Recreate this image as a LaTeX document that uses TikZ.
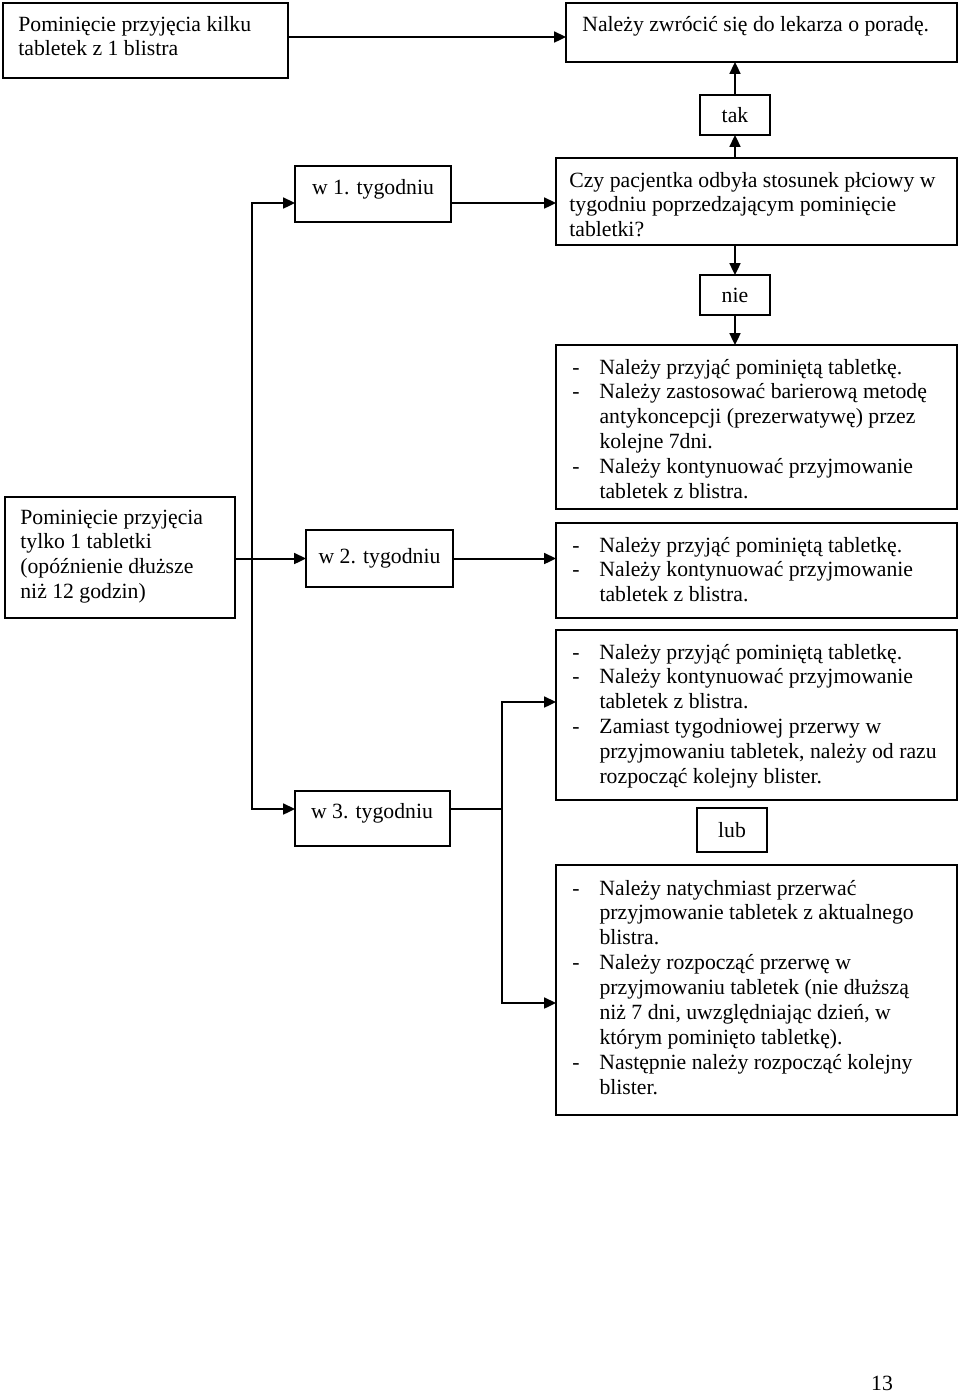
\documentclass[tikz,border=0pt]{standalone}
\usepackage{fontspec}
\setmainfont{Liberation Serif}
\usetikzlibrary{arrows.meta}
\tikzset{
 bx/.style={draw, line width=1.1pt, inner sep=0pt, outer sep=0pt, font=\fontsize{12}{13.8}\selectfont},
 txt/.style={inner sep=0pt, anchor=base west, font=\fontsize{12}{13.8}\selectfont},
 ctxt/.style={inner sep=0pt, font=\fontsize{12}{13.8}\selectfont},
 tip/.tip={Triangle[length=6.5pt,width=6pt]},
 arr/.style={line width=1.1pt, -tip},
 arrb/.style={line width=1.1pt, tip-tip},
 ln/.style={line width=1.1pt},
}
\newcommand\mkbox[6]{\node[bx, minimum width={(#4-#2)*0.5525pt}, minimum height={(#5-#3)*0.5525pt}] (#1) at ({(#2+#4)/2},{(#3+#5)/2}) {#6};}
\newcommand\tl[1]{\begin{tabular}[t]{@{}l@{}}#1\end{tabular}}
\newcommand\dl[2]{\begin{tabular}[t]{@{}p{#1}@{}l@{}}#2\end{tabular}}
\begin{document}
\begin{tikzpicture}[x=0.5525pt,y=-0.5525pt]
\useasboundingbox (0,0) rectangle (960,1394);
% boxes
\mkbox{A}{3}{3}{288}{78}{}
\mkbox{B}{566}{3}{957}{62}{}
\mkbox{tak}{700}{95}{770}{135}{tak}
\mkbox{Q}{556}{158}{957}{245}{}
\mkbox{nie}{700}{275}{770}{315}{nie}
\mkbox{wa}{295}{166}{451}{222}{}
\mkbox{D1}{556}{345}{957}{509}{}
\mkbox{C}{5}{497}{235}{618}{}
\mkbox{wb}{306}{530}{453}{587}{w 2. tygodniu}
\mkbox{D2}{556}{523}{957}{618}{}
\mkbox{D3}{556}{630}{957}{800}{}
\mkbox{wc}{295}{791}{450}{846}{}
\mkbox{lub}{697}{808}{767}{852}{lub}
\mkbox{D4}{556}{865}{957}{1115}{}
% texts
\node[txt] (tA) at (18,31) {\tl{Pominięcie przyjęcia kilku\\tabletek z 1 blistra}};
\node[txt] (tB) at (582,31) {Należy zwrócić się do lekarza o poradę.};
\node[txt] (tQ) at (569,187) {\tl{Czy pacjentka odbyła stosunek płciowy w\\tygodniu poprzedzającym pominięcie\\tabletki?}};
\node[txt] (tC) at (20,524) {\tl{Pominięcie przyjęcia\\tylko 1 tabletki\\(opóźnienie dłuższe\\niż 12 godzin)}};
\node[ctxt] (twa) at (373,189) {w 1. tygodniu};
\node[ctxt] (twc) at (372,813) {w 3. tygodniu};
\node[txt] (tD1) at (572,374) {\dl{15pt}{-&Należy przyjąć pominiętą tabletkę.\\
-&Należy zastosować barierową metodę\\
&antykoncepcji (prezerwatywę) przez\\
&kolejne 7dni.\\
-&Należy kontynuować przyjmowanie\\
&tabletek z blistra.}};
\node[txt] (tD2) at (572,552) {\dl{15pt}{-&Należy przyjąć pominiętą tabletkę.\\
-&Należy kontynuować przyjmowanie\\
&tabletek z blistra.}};
\node[txt] (tD3) at (572,659) {\dl{15pt}{-&Należy przyjąć pominiętą tabletkę.\\
-&Należy kontynuować przyjmowanie\\
&tabletek z blistra.\\
-&Zamiast tygodniowej przerwy w\\
&przyjmowaniu tabletek, należy od razu\\
&rozpocząć kolejny blister.}};
\node[txt] (tD4) at (572,895) {\dl{15pt}{-&Należy natychmiast przerwać\\
&przyjmowanie tabletek z aktualnego\\
&blistra.\\
-&Należy rozpocząć przerwę w\\
&przyjmowaniu tabletek (nie dłuższą\\
&niż 7 dni, uwzględniając dzień, w\\
&którym pominięto tabletkę).\\
-&Następnie należy rozpocząć kolejny\\
&blister.}};
\node[ctxt] (pg) at (882,1383) {13};
% connectors
\coordinate (ab) at (0,37);
\draw[arr] (ab -| A.east) -- (ab -| B.west);
\draw[arr] (tak.south |- Q.north) -- (tak.south);
\draw[arr] (tak.north) -- (tak.north |- B.south);
\draw[arr] (nie.north |- Q.south) -- (nie.north);
\draw[arr] (nie.south) -- (nie.south |- D1.north);
\coordinate (w1y) at (0,203);
\draw[arr] (w1y -| wa.east) -- (w1y -| Q.west);
\coordinate (s) at (252,0);
\coordinate (w3y) at (0,809);
\draw[arrb] (w1y -| wa.west) -- (s |- w1y) -- (s |- w3y) -- (w3y -| wc.west);
\draw[arr] (C.east |- wb.west) -- (wb.west);
\draw[arr] (wb.east) -- (wb.east -| D2.west);
\coordinate (j3) at (502,702);
\coordinate (j4) at (502,1003);
\draw[ln] (w3y -| wc.east) -- (w3y -| j3);
\draw[arrb] (j3 -| D3.west) -- (j3) -- (j4) -- (j4 -| D4.west);
\end{tikzpicture}
\end{document}
